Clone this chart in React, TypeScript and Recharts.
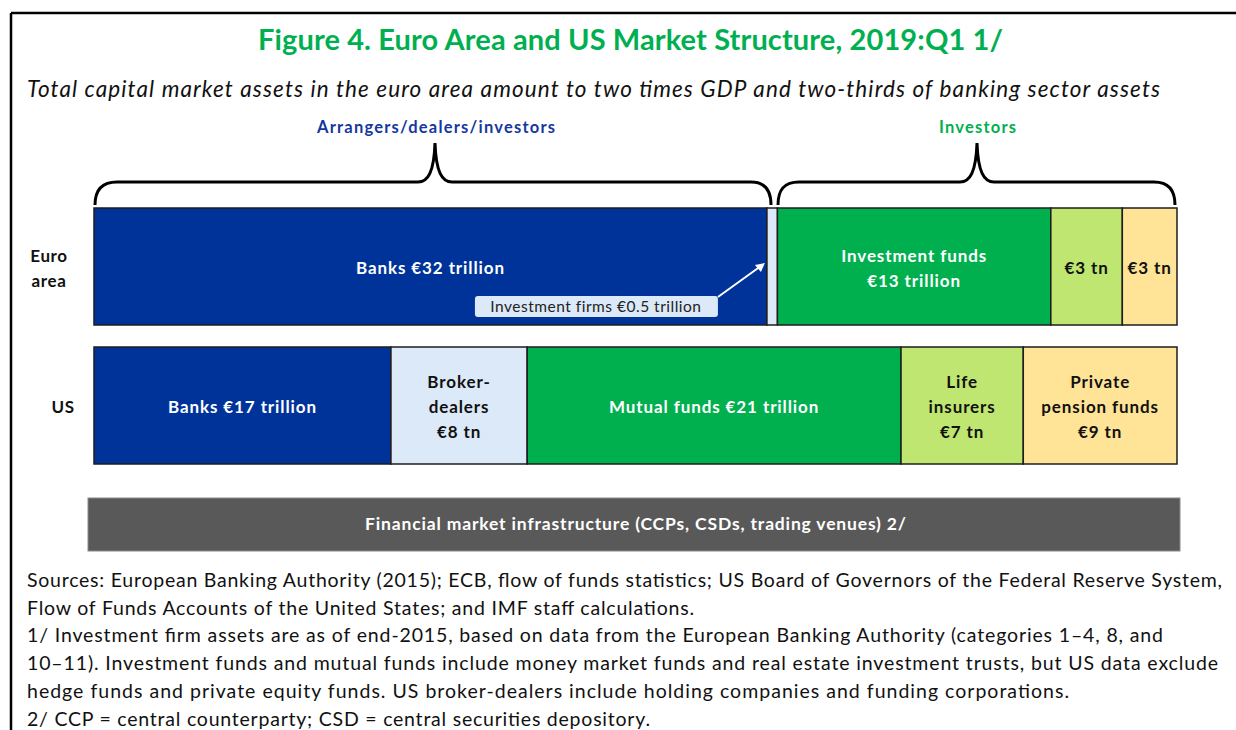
import React from 'react';
import { BarChart, Bar, XAxis, YAxis } from 'recharts';

// rows and segment values (€ trillion), left to right
const rows = ['Euro area', 'US'];
const banks = [32, 17];
const dealers = [0.5, 7.8];
const funds = [13, 21.4];
const insurers = [3.4, 7];
const pension = [2.6, 8.8];

// text printed inside each segment
const bankLabels = [['Banks €32 trillion'], ['Banks €17 trillion']];
const dealerLabels = [[], ['Broker-', 'dealers', '€8 tn']];
const fundLabels = [['Investment funds', '€13 trillion'], ['Mutual funds €21 trillion']];
const insurerLabels = [['€3 tn'], ['Life', 'insurers', '€7 tn']];
const pensionLabels = [['€3 tn'], ['Private', 'pension funds', '€9 tn']];
const firmNote = 'Investment firms €0.5 trillion';

const title = 'Figure 4. Euro Area and US Market Structure, 2019:Q1 1/';
const subtitle = 'Total capital market assets in the euro area amount to two times GDP and two-thirds of banking sector assets';
const groupLeft = 'Arrangers/dealers/investors';
const groupRight = 'Investors';
const infraText = 'Financial market infrastructure (CCPs, CSDs, trading venues) 2/';
const notes = [
  'Sources: European Banking Authority (2015); ECB, flow of funds statistics; US Board of Governors of the Federal Reserve System,',
  'Flow of Funds Accounts of the United States; and IMF staff calculations.',
  '1/ Investment firm assets are as of end-2015, based on data from the European Banking Authority (categories 1–4, 8, and',
  '10–11). Investment funds and mutual funds include money market funds and real estate investment trusts, but US data exclude',
  'hedge funds and private equity funds. US broker-dealers include holding companies and funding corporations.',
  '2/ CCP = central counterparty; CSD = central securities depository.',
];
const noteWidths = [1195, 667, 1136, 1191, 1042, 623];

const data = rows.map((row, i) => ({
  row,
  banks: banks[i],
  dealers: dealers[i],
  funds: funds[i],
  insurers: insurers[i],
  pension: pension[i],
}));

const FONT = 'Lato, "Open Sans", sans-serif';
const LINE = 25;

const makeShape = (labels: string[][], textColor: string, note?: boolean) => (props: any) => {
  const { x, y, width, height, fill, payload } = props;
  const i = rows.indexOf(payload.row);
  const lines = labels[i] || [];
  const cx = x + width / 2;
  const cy = y + height / 2;
  return (
    <g>
      <rect x={x} y={y} width={width} height={height} fill={fill} stroke="#1e1e1e" strokeWidth={1.5} />
      {lines.map((t, k) => (
        <text
          key={k}
          x={cx}
          y={cy + 7.5 + (k - (lines.length - 1) / 2) * LINE}
          textAnchor="middle"
          fill={textColor}
          fontFamily={FONT}
          fontWeight={700}
          fontSize={17}
          letterSpacing={0.9}
        >
          {t}
        </text>
      ))}
      {note && i === 0 && (
        <g>
          <rect x={x - 292} y={y + 88} width={243} height={21} rx={3} fill="#dce9f8" />
          <text x={x - 171} y={y + 104} textAnchor="middle" fill="#222" fontFamily={FONT} fontSize={15.5} letterSpacing={0.5}>
            {firmNote}
          </text>
          <line x1={x - 49} y1={y + 89} x2={x - 6} y2={y + 58} stroke="#fff" strokeWidth={2} />
          <path d={`M${x - 2},${y + 55} L${x - 12},${y + 57} L${x - 6},${y + 64} Z`} fill="#fff" />
        </g>
      )}
    </g>
  );
};

const RowTick = (props: any) => {
  const { y, payload } = props;
  const words = payload.value === 'Euro area' ? ['Euro', 'area'] : [payload.value];
  const cx = words.length > 1 ? 49 : 63;
  return (
    <g>
      {words.map((w, k) => (
        <text
          key={k}
          x={cx}
          y={y + 7.5 + (k - (words.length - 1) / 2) * LINE}
          textAnchor="middle"
          fill="#111"
          fontFamily={FONT}
          fontWeight={700}
          fontSize={17}
          letterSpacing={0.6}
        >
          {w}
        </text>
      ))}
    </g>
  );
};

const braceLeft =
  'M95,205 C95,190 102,182 117,182 L418,182 C428,182 434,172 435,143 C436,172 442,182 452,182 L751,182 C765,182 771,190 771,205';
const braceRight =
  'M778,205 C778,190 784,182 799,182 L960,182 C970,182 976,172 977,143 C978,172 984,182 994,182 L1154,182 C1168,182 1175,190 1175,205';

export default function App() {
  return (
    <div style={{ position: 'absolute', left: 0, top: 0, width: 1236, height: 730, overflow: 'hidden', background: '#fff' }}>
      <div style={{ position: 'absolute', left: 0, top: 0 }}>
        <BarChart
          width={1236}
          height={730}
          data={data}
          layout="vertical"
          stackOffset="expand"
          barCategoryGap={11}
          margin={{ top: 197, right: 59, bottom: 255, left: 0 }}
        >
          <XAxis type="number" hide domain={[0, 1]} />
          <YAxis type="category" dataKey="row" width={94} axisLine={false} tickLine={false} tick={<RowTick />} />
          <Bar dataKey="banks" stackId="a" fill="#003399" isAnimationActive={false} shape={makeShape(bankLabels, '#fff')} />
          <Bar dataKey="dealers" stackId="a" fill="#dce9f8" isAnimationActive={false} shape={makeShape(dealerLabels, '#111', true)} />
          <Bar dataKey="funds" stackId="a" fill="#00b04f" isAnimationActive={false} shape={makeShape(fundLabels, '#fff')} />
          <Bar dataKey="insurers" stackId="a" fill="#c0e672" isAnimationActive={false} shape={makeShape(insurerLabels, '#111')} />
          <Bar dataKey="pension" stackId="a" fill="#ffe396" isAnimationActive={false} shape={makeShape(pensionLabels, '#111')} />
        </BarChart>
      </div>
      <svg width={1236} height={730} style={{ position: 'absolute', left: 0, top: 0, pointerEvents: 'none' }}>
        {/* frame */}
        <line x1={11} y1={13} x2={1236} y2={13} stroke="#000" strokeWidth={2.5} />
        <line x1={11} y1={13} x2={11} y2={730} stroke="#000" strokeWidth={2.5} />

        <text x={258} y={50} textLength={745} lengthAdjust="spacing" fill="#00b050" fontFamily={FONT} fontWeight={700} fontSize={29}>
          {title}
        </text>
        <text x={27} y={97} textLength={1133} lengthAdjust="spacing" fill="#111" fontFamily={FONT} fontStyle="italic" fontSize={22.5}>
          {subtitle}
        </text>

        <text x={317} y={133} textLength={238} lengthAdjust="spacing" fill="#1538a0" fontFamily={FONT} fontWeight={700} fontSize={16.5}>
          {groupLeft}
        </text>
        <text x={939} y={133} textLength={77} lengthAdjust="spacing" fill="#00b050" fontFamily={FONT} fontWeight={700} fontSize={16.5}>
          {groupRight}
        </text>
        <path d={braceLeft} fill="none" stroke="#000" strokeWidth={3} />
        <path d={braceRight} fill="none" stroke="#000" strokeWidth={3} />

        <rect x={88} y={498} width={1092} height={53} fill="#595959" stroke="#8a8a8a" strokeWidth={1} />
        <text x={365} y={530} textLength={541} lengthAdjust="spacing" fill="#fff" fontFamily={FONT} fontWeight={700} fontSize={17.5}>
          {infraText}
        </text>

        {notes.map((t, k) => (
          <text
            key={k}
            x={27}
            y={587 + k * 27.7}
            textLength={noteWidths[k]}
            lengthAdjust="spacing"
            fill="#111"
            fontFamily={FONT}
            fontSize={19.5}
          >
            {t}
          </text>
        ))}
      </svg>
    </div>
  );
}
